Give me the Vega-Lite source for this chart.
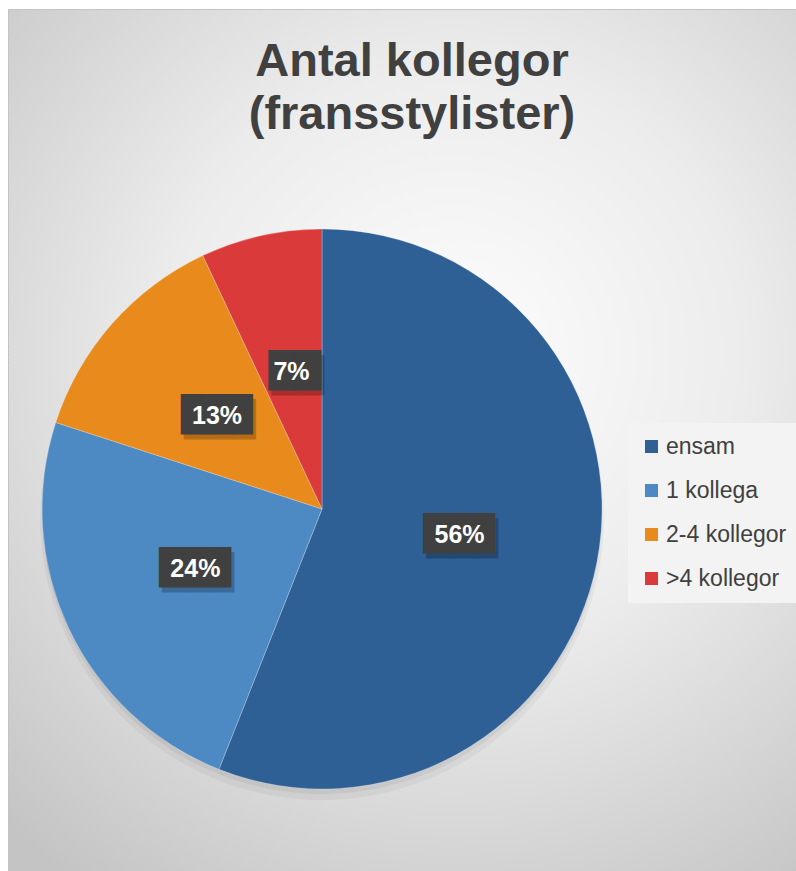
{
  "$schema": "https://vega.github.io/schema/vega-lite/v6.json",
  "width": 788,
  "height": 862,
  "autosize": {"type": "none"},
  "padding": {"left": 8, "top": 9, "right": 0, "bottom": 0},
  "background": "#ffffff",
  "config": {
    "view": {
      "fill": {
        "gradient": "radial",
        "x1": 0.56, "y1": 0.4, "r1": 0,
        "x2": 0.56, "y2": 0.4, "r2": 0.75,
        "stops": [
          {"offset": 0, "color": "#fdfdfd"},
          {"offset": 0.45, "color": "#ececec"},
          {"offset": 1, "color": "#c4c4c4"}
        ]
      },
      "stroke": "#c4c4c4",
      "strokeWidth": 1
    }
  },
  "title": {
    "text": ["Antal kollegor", "(fransstylister)"],
    "font": "Liberation Sans",
    "fontSize": 47,
    "fontWeight": "bold",
    "color": "#404040",
    "anchor": "middle",
    "frame": "group",
    "baseline": "top",
    "offset": -130,
    "dx": 10,
    "lineHeight": 53
  },
  "data": {
    "values": [
      {"kategori": "ensam", "andel": 56, "ordning": 1, "etikett": "56%"},
      {"kategori": "1 kollega", "andel": 24, "ordning": 2, "etikett": "24%"},
      {"kategori": "2-4 kollegor", "andel": 13, "ordning": 3, "etikett": "13%"},
      {"kategori": ">4 kollegor", "andel": 7, "ordning": 4, "etikett": "7%"}
    ]
  },
  "encoding": {
    "x": {"datum": 0.3985, "type": "quantitative", "scale": {"domain": [0, 1], "nice": false, "zero": false}, "axis": null},
    "y": {"datum": 0.42, "type": "quantitative", "scale": {"domain": [0, 1], "nice": false, "zero": false}, "axis": null},
    "theta": {"field": "andel", "type": "quantitative", "stack": true},
    "order": {"field": "ordning", "type": "quantitative"}
  },
  "layer": [
    {
      "mark": {"type": "arc", "outerRadius": 282, "color": "#000000", "opacity": 0.04, "yOffset": 9}
    },
    {
      "mark": {"type": "arc", "outerRadius": 280, "color": "#000000", "opacity": 0.05, "yOffset": 5}
    },
    {
      "mark": {"type": "arc", "outerRadius": 280, "stroke": "#ffffff", "strokeOpacity": 0.5, "strokeWidth": 0.5},
      "encoding": {
        "color": {
          "field": "kategori",
          "type": "nominal",
          "scale": {
            "domain": ["ensam", "1 kollega", "2-4 kollegor", ">4 kollegor"],
            "range": ["#2e5f95", "#4d89c3", "#e98b1c", "#da3a39"]
          },
          "legend": {
            "title": null,
            "orient": "none",
            "legendX": 620,
            "legendY": 414,
            "fillColor": "#f3f3f3",
            "padding": 12,
            "labelFont": "Liberation Sans",
            "labelFontSize": 23,
            "labelColor": "#404040",
            "labelOffset": 3,
            "symbolType": "square",
            "symbolSize": 169,
            "symbolStrokeWidth": 0,
            "rowPadding": 20
          }
        }
      }
    },
    {
      "mark": {"type": "text", "radius": 140, "font": "DejaVu Sans", "fontSize": 34, "baseline": "middle", "align": "center", "color": "#000000", "opacity": 0.22, "dx": 6, "dy": 5},
      "encoding": {
        "text": {"condition": {"test": "datum.kategori === '>4 kollegor'", "value": "██"}, "value": "██▊"}
      }
    },
    {
      "mark": {"type": "text", "radius": 140, "font": "DejaVu Sans", "fontSize": 34, "baseline": "middle", "align": "center", "color": "#404040", "dx": 3},
      "encoding": {
        "text": {"condition": {"test": "datum.kategori === '>4 kollegor'", "value": "██"}, "value": "██▊"}
      }
    },
    {
      "mark": {"type": "text", "radius": 140, "font": "Liberation Sans", "fontSize": 25, "fontWeight": "bold", "baseline": "middle", "align": "center", "color": "#ffffff"},
      "encoding": {
        "text": {"field": "etikett", "type": "nominal"}
      }
    }
  ]
}
